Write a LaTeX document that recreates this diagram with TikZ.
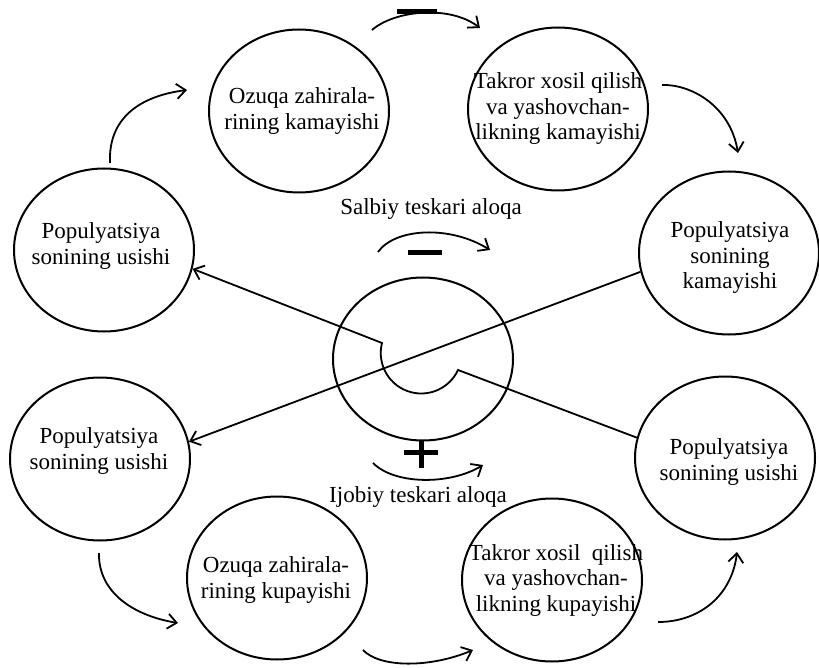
\documentclass[tikz,border=0pt]{standalone}
\usepackage{fontspec}
\setmainfont{Liberation Serif}
\usetikzlibrary{shapes.geometric,arrows.meta}
\begin{document}
\begin{tikzpicture}[x=1pt,y=-1pt,
  circ/.style={draw,ellipse,line width=2pt,minimum width=180pt,minimum height=163pt,inner sep=0pt},
  lbl/.style={align=center,font=\fontsize{23}{25.5}\selectfont,inner sep=0pt},
  conn/.style={line width=1.8pt},
  arr/.style={conn,-{Straight Barb[length=9pt,width=15pt,line width=1.8pt]}},
  rarr/.style={conn,{Straight Barb[length=9pt,width=15pt,line width=1.8pt]}-},
  bar/.style={line width=5pt}]
\useasboundingbox (0,0) rectangle (819,668);
% ellipses
\node[circ] (c1) at (299,111) {};
\node[circ] (c2) at (558,109) {};
\node[circ] (c3) at (104,250) {};
\node[circ] (c4) at (729,253) {};
\node[circ] (c0) at (423,359) {};
\node[circ] (c5) at (725,458) {};
\node[circ] (c6) at (100,459) {};
\node[circ] (c7) at (277,578) {};
\node[circ] (c8) at (552,580) {};
% texts
\node[lbl] (t1) at (302,111) {Ozuqa zahirala-\\rining kamayishi};
\node[lbl] (t2) at (558,109) {Takror xosil qilish\\va yashovchan-\\likning kamayishi};
\node[lbl] (t3) at (101,246) {Populyatsiya\\sonining usishi};
\node[lbl] (t4) at (730,258) {Populyatsiya\\sonining\\kamayishi};
\node[lbl] (t5) at (729,462) {Populyatsiya\\sonining usishi};
\node[lbl] (t6) at (99,451) {Populyatsiya\\sonining usishi};
\node[lbl] (t7) at (276,580) {Ozuqa zahirala-\\rining kupayishi};
\node[lbl] (t8) at (556,580) {Takror xosil\ \ qilish\\va yashovchan-\\likning kupayishi};
\node[lbl] (s1) at (431,209) {Salbiy teskari aloqa};
\node[lbl] (s2) at (418,497) {Ijobiy teskari aloqa};
% inner connectors through the centre
\coordinate (ia1) at (382,343);
\draw[rarr] (c3.-12) -- (ia1) arc[start angle=165.7,end angle=335.2,radius=40.5pt] -- (c5.167);
\draw[arr] (c4.192.7) -- (c6.11);
% curved arrows round the cycles
\coordinate (a1) at (110,163); \coordinate (a2) at (187,90);
\draw[arr] (a1) .. controls (108,118) and (140,96) .. (a2);
\coordinate (b1) at (372,30); \coordinate (b2) at (480,28);
\draw[arr] (b1) .. controls (395,10) and (450,5) .. (b2);
\coordinate (m0a) at (397,12); \coordinate (m0b) at (437,12);
\draw[bar] (m0a) -- (m0b);
\coordinate (d1) at (662,85); \coordinate (d2) at (738,153);
\draw[arr] (d1) .. controls (690,84) and (730,105) .. (d2);
\coordinate (e1) at (378,252); \coordinate (e2) at (490,250);
\draw[arr] (e1) .. controls (395,228) and (450,225) .. (e2);
\coordinate (m1a) at (408,253); \coordinate (m1b) at (442,253);
\draw[bar] (m1a) -- (m1b);
\coordinate (p1a) at (404,452); \coordinate (p1b) at (438,452);
\coordinate (p2a) at (421,440); \coordinate (p2b) at (421,468);
\draw[bar] (p1a) -- (p1b);
\draw[bar] (p2a) -- (p2b);
\coordinate (f1) at (373,463); \coordinate (f2) at (483,465);
\draw[arr] (f1) .. controls (395,485) and (450,485) .. (f2);
\coordinate (g1) at (99,553); \coordinate (g2) at (178,623);
\draw[arr] (g1) .. controls (98,590) and (130,615) .. (g2);
\coordinate (h1) at (363,650); \coordinate (h2) at (473,650);
\draw[arr] (h1) .. controls (380,668) and (430,668) .. (h2);
\coordinate (k1) at (658,622); \coordinate (k2) at (737,552);
\draw[arr] (k1) .. controls (700,622) and (732,595) .. (k2);
\end{tikzpicture}
\end{document}
